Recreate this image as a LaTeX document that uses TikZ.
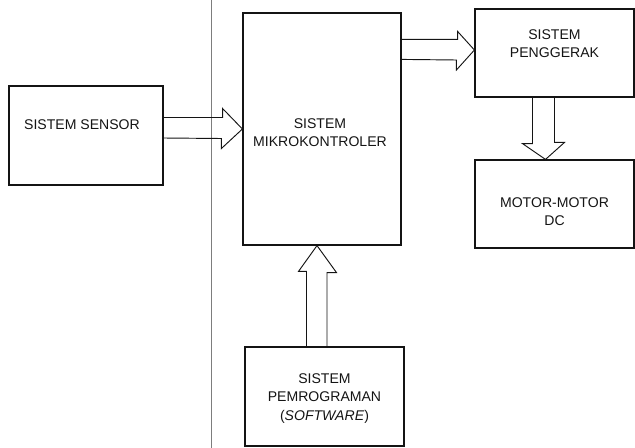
\documentclass[tikz,border=0pt]{standalone}
\usepackage{fontspec}
\setmainfont{Liberation Sans}
\usetikzlibrary{calc,fit}
\definecolor{ink}{RGB}{20,20,20}
\definecolor{rule}{RGB}{125,125,125}
\tikzset{
  blok/.style={draw=ink,line width=1pt,inner sep=0pt},
  tag/.style={font=\fontsize{12}{15.5}\selectfont,text=ink,align=center},
  flow/.style={draw=ink,line width=0.8pt,line join=miter},
}

\begin{document}
\begin{tikzpicture}[x=0.03cm,y=-0.03cm]
  \useasboundingbox (0,0) rectangle (635,448);
  % separator
  \coordinate (sep top) at (211,0);
  \coordinate (sep bot) at (211,448);
  \draw[rule,line width=0.6pt] (sep top) -- (sep bot);

  % blocks
  \node[blok,fit={(9,86) (163,185)}] (sensor) {};
  \node[blok,fit={(243,13) (401,245)}] (mk) {};
  \node[blok,fit={(475,9) (634,97)}] (pg) {};
  \node[blok,fit={(475,160) (634,248)}] (mo) {};
  \node[blok,fit={(245,347) (404,446)}] (pr) {};

  \node[tag] (tsensor) at ($(sensor.center)+(-4,-11)$) {SISTEM SENSOR};
  \node[tag] (tmk) at ($(mk.center)+(-2,4)$) {SISTEM\\MIKROKONTROLER};
  \node[tag] (tpg) at ($(pg.center)+(0,-9)$) {SISTEM\\PENGGERAK};
  \node[tag] (tmo) at ($(mo.center)+(0,8)$) {MOTOR-MOTOR\\DC};
  \node[tag] (tpr) at ($(pr.center)+(0,2)$) {SISTEM\\PEMROGRAMAN\\(\textit{SOFTWARE})};

  % block arrows
  \draw[flow] ($(sensor.east)+(0,-18)$) -- ++(59,0) -- ++(0,-9) -- (mk.west)
    -- ++(-21,19.5) -- ++(0,-10) -- ($(sensor.east)+(0,2.5)$);
  \draw[flow] ($(mk.north east)+(0,27)$) -- ++(56,0) -- ++(0,-8) -- ($(pg.west)+(0,-3)$)
    -- ++(-18,20) -- ++(0,-10) -- ($(mk.north east)+(0,47)$);
  \draw[flow] ($(pr.north)+(-18,0)$) -- ++(0,-75) -- ++(-8,0) -- ($(mk.south)+(-5,0)$)
    -- ++(19.5,27) -- ++(-9.5,0) -- ($(pr.north)+(2.5,0)$);
  \draw[flow] ($(pg.south)+(-22,0)$) -- ++(0,46) -- ++(-10,0) -- ($(mo.north)+(-9,0)$)
    -- ++(19,-17) -- ++(-10,0) -- (pg.south);
\end{tikzpicture}
\end{document}
